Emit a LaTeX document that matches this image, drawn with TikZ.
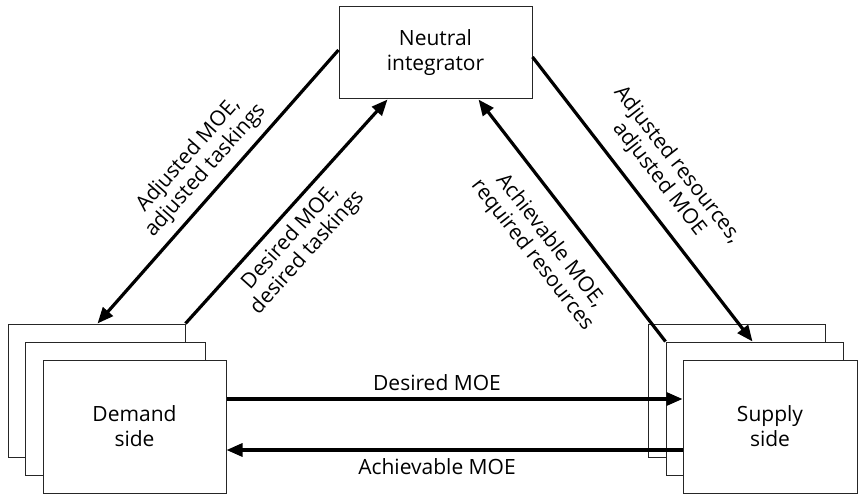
\documentclass[tikz,border=0pt]{standalone}
\usepackage{fontspec}
\setmainfont{Open Sans}
\usetikzlibrary{arrows.meta,calc}
\begin{document}
\begin{tikzpicture}[x=1pt,y=-1pt,
  box/.style={draw=black!85,line width=1pt,fill=white,inner sep=0pt,align=center,font=\fontsize{21}{25}\selectfont},
  flow/.style={line width=3.2pt,-{Triangle[length=16pt,width=13pt]}},
  lbl/.style={align=center,font=\fontsize{21}{23}\selectfont,inner sep=0pt}]
\useasboundingbox (0,0) rectangle (858,494);
% top box
\node[box,minimum width=193pt,minimum height=92pt] (ni) at (435.5,53) {Neutral\\integrator};
% demand stack
\node[box,minimum width=177pt,minimum height=133pt] (dm1) at (96.5,390.5) {};
\node[box,minimum width=180pt,minimum height=133pt] (dm2) at (115,408.5) {};
\node[box,minimum width=183pt,minimum height=133pt] (dm) at (134.5,426.5) {Demand\\side};
% supply stack
\node[box,minimum width=177pt,minimum height=133pt] (sr1) at (736.5,390.5) {};
\node[box,minimum width=177pt,minimum height=133pt] (sr2) at (754.5,408.5) {};
% arrows
\draw[flow] ([yshift=3pt]ni.west) -- ([xshift=90pt]dm1.north west);
\draw[flow] (dm1.north east) -- ([xshift=-48pt]ni.south);
\draw[flow] ([yshift=-4pt]ni.east) -- ([xshift=-2pt]sr2.north);
\draw[flow] (sr2.north west) -- ([xshift=43pt]ni.south);
\node[box,minimum width=174pt,minimum height=133pt] (sr) at (770,426.5) {Supply\\side};
\draw[flow] ([yshift=27.5pt]dm.east) -- ([yshift=27.5pt]sr.west);
\draw[flow] ([yshift=-23.5pt]sr.west) -- ([yshift=-23.5pt]dm.east);
% labels
\node[lbl] (l1) at (437,383) {Desired MOE};
\node[lbl] (l2) at (437,467) {Achievable MOE};
\node[lbl,rotate=48.5] (l3) at (197,163) {Adjusted MOE,\\adjusted taskings};
\node[lbl,rotate=48] (l4) at (299,245) {Desired MOE,\\desired taskings};
\node[lbl,rotate=-52] (l5) at (668,172) {Adjusted resources,\\adjusted MOE};
\node[lbl,rotate=-52] (l6) at (541,248) {Achievable MOE,\\required resources};
\end{tikzpicture}
\end{document}
